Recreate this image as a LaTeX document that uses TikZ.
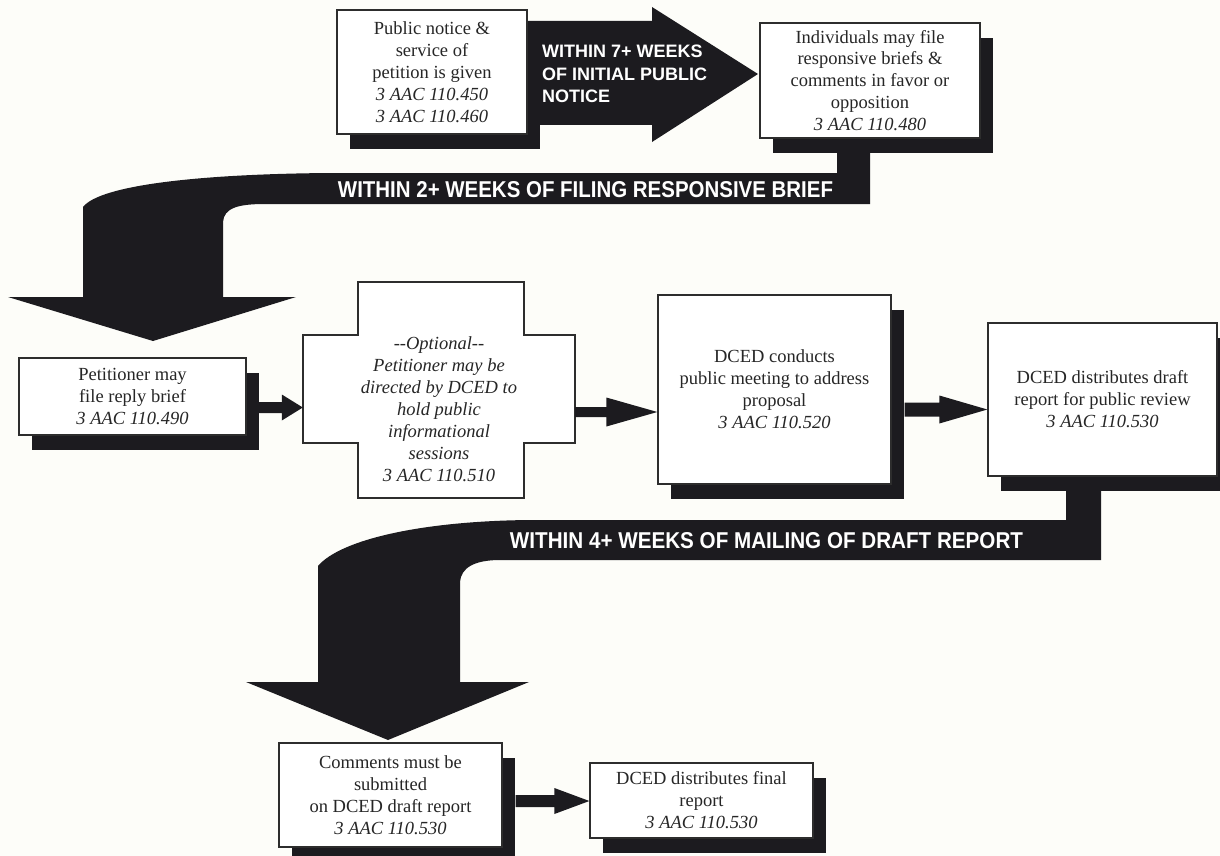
\documentclass[tikz,border=0pt]{standalone}
\usepackage{fontspec}
\setmainfont{Liberation Serif}
\newfontfamily\bandfont{Liberation Sans}
\usetikzlibrary{calc,shadows}
\definecolor{darkc}{RGB}{28,27,31}
\definecolor{bordc}{RGB}{45,45,45}
\definecolor{bgc}{RGB}{253,253,249}
\definecolor{txtc}{RGB}{38,38,38}
\newcommand{\fatarrow}[5]{%
  \fill[darkc] let \p1=(#1), \p2=(#2) in
    (\x1,\y1+#3) -- (\x2-#5,\y1+#3) -- (\x2-#5,\y1+#4) -- (\x2,\y1)
    -- (\x2-#5,\y1-#4) -- (\x2-#5,\y1-#3) -- (\x1,\y1-#3) -- cycle;}
\begin{document}
\begin{tikzpicture}[x=1pt,y=-1pt,
  box/.style={draw=bordc, line width=1.3pt, fill=white, align=center,
    inner sep=2pt, text=txtc, font=\fontsize{18.5}{21.9}\selectfont,
    drop shadow={shadow xshift=13pt, shadow yshift=-15pt, fill=darkc, opacity=1}},
  crosstext/.style={align=center, inner sep=0pt, text=txtc,
    font=\fontsize{18.5}{22}\selectfont\itshape},
  crossline/.style={draw=bordc, line width=1.3pt, fill=white},
  fatshape/.style={fill=darkc},
  bandtext/.style={inner sep=0pt, text=white},
  headtext/.style={inner sep=0pt, text=white, align=left,
    font=\bandfont\bfseries\fontsize{18}{22.5}\selectfont}]
\fill[bgc] (0,0) rectangle (1220,856);
\useasboundingbox (0,0) rectangle (1220,856);

% straight fat arrow: public notice -> individuals
\fill[fatshape] (500,21) -- (652,21) -- (652,7) -- (758,74) -- (652,142)
  -- (652,125) -- (500,125) -- cycle;
\node[headtext, anchor=west] (t7) at (542,74) {WITHIN 7+ WEEKS\\OF INITIAL PUBLIC\\NOTICE};

% curved fat arrow 1
\fill[fatshape] (837,148) -- (837,173) -- (330,173)
  .. controls (200,174) and (100,185) .. (83,207) -- (83,297) -- (8,297)
  -- (153,341) -- (296,297) -- (223,297) -- (223,222)
  .. controls (224,208) and (238,204) .. (265,204) -- (870,204) -- (870,148) -- cycle;
\node[bandtext] (t2) at (585.5,190)
  {\resizebox{495pt}{16pt}{\bandfont\bfseries WITHIN 2+ WEEKS OF FILING RESPONSIVE BRIEF}};

% curved fat arrow 2
\fill[fatshape] (1066,486) -- (1066,520) -- (530,520)
  .. controls (420,521) and (340,540) .. (318,566) -- (318,682) -- (246,682)
  -- (388,740) -- (529,682) -- (460,682) -- (460,582)
  .. controls (461,568) and (474,560) .. (500,560) -- (1101,560) -- (1101,486) -- cycle;
\node[bandtext] (t4) at (766.5,541)
  {\resizebox{513pt}{16pt}{\bandfont\bfseries WITHIN 4+ WEEKS OF MAILING OF DRAFT REPORT}};

% boxes
\node[box, minimum width=190pt, minimum height=124pt] (pn) at (432,72)
  {Public notice \&\\service of\\petition is given\\\textit{3 AAC 110.450}\\\textit{3 AAC 110.460}};
\node[box, minimum width=220pt, minimum height=115pt] (ind) at (870,80.5)
  {Individuals may file\\responsive briefs \&\\comments in favor or\\opposition\\\textit{3 AAC 110.480}};
\node[box, minimum width=227pt, minimum height=77pt] (prb) at (132.5,396.5)
  {Petitioner may\\file reply brief\\\textit{3 AAC 110.490}};

% cross-shaped optional box
\draw[crossline] (358,282) -- (524,282) -- (524,335) -- (575,335) -- (575,443)
  -- (524,443) -- (524,498) -- (358,498) -- (358,443) -- (303,443)
  -- (303,335) -- (358,335) -- cycle;
\node[crosstext, minimum width=272pt] (opt) at (439,409)
  {-{}-Optional-{}-\\Petitioner may be\\directed by DCED to\\hold public\\informational\\sessions\\3 AAC 110.510};

\node[box, minimum width=233pt, minimum height=189pt] (mtg) at (774.5,389.5)
  {DCED conducts\\public meeting to address\\proposal\\\textit{3 AAC 110.520}};
\node[box, minimum width=229pt, minimum height=153pt] (drf) at (1102.5,399.5)
  {DCED distributes draft\\report for public review\\\textit{3 AAC 110.530}};
\node[box, minimum width=223pt, minimum height=104pt] (cmt) at (390.5,795)
  {Comments must be\\submitted\\on DCED draft report\\\textit{3 AAC 110.530}};
\node[box, minimum width=223pt, minimum height=75pt] (fin) at (701.5,800.5)
  {DCED distributes final\\report\\\textit{3 AAC 110.530}};

% small fat arrows
\fatarrow{$(prb.east)+(12,11)$}{opt.west}{5.5pt}{13pt}{21pt}
\fatarrow{$(opt.east)+(0,3)$}{mtg.west}{5pt}{14.5pt}{51pt}
\fatarrow{$(mtg.east)+(13,20)$}{drf.west}{7pt}{14pt}{48pt}
\fatarrow{$(cmt.east)+(13,6)$}{fin.west}{6pt}{13pt}{35pt}
\end{tikzpicture}
\end{document}
